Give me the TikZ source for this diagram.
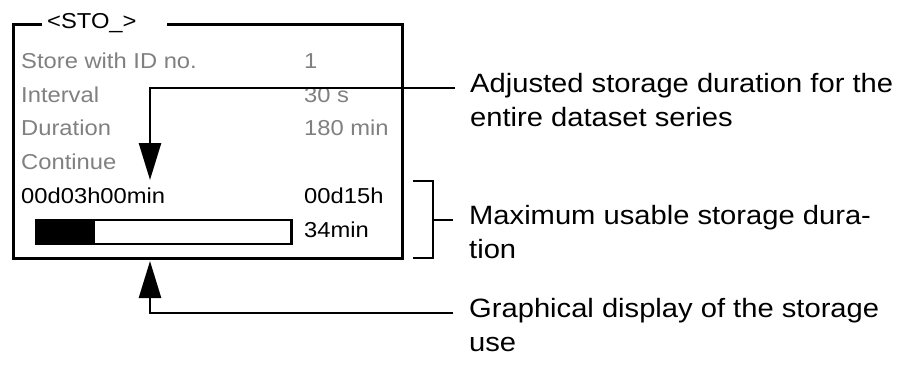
\documentclass[tikz,border=0pt]{standalone}
\usepackage{fontspec}
\setmainfont{Liberation Sans}[FakeStretch=1.1]
\usepackage{tikz}
\usetikzlibrary{arrows.meta,positioning}
\usepackage{xcolor}
\definecolor{dimgray}{RGB}{128,128,128}

\begin{document}
\begin{tikzpicture}[
      x=1pt, y=-1pt,
      every node/.style={inner sep=0pt, anchor=base west},
      menu/.style={font=\fontsize{21.6}{24}\selectfont, text=dimgray},
      menuval/.style={font=\fontsize{21.6}{24}\selectfont},
      lbl/.style={font=\fontsize{26.5}{34}\selectfont, align=left},
      frameline/.style={line width=3pt},
      conn/.style={line width=2.6pt},
      arr/.style={conn, -{Triangle[length=37pt,width=22pt]}},
    ]
    \useasboundingbox (0,0) rectangle (913,365);

    % Display frame with title
    \draw[frameline] (42,24) -- (13,24) |- (402,258) |- (167,24);
    \node[menuval] (title) at (47,28.5) {<STO\_>};

    % Menu lines
    \node[menu]    (store)    at (21,68.5)  {Store with ID no.};
    \node[menu]    (interval) at (21,102.2) {Interval};
    \node[menu]    (duration) at (21,135.9) {Duration};
    \node[menu]    (continue) at (21,169.6) {Continue};
    \node[menuval] (elapsed)  at (21,203.3) {00d03h00min};

    % Values
    \node[menu]    (idval)  at (304,68.5)  {1};
    \node[menu]    (intval) at (304,102.2) {30 s};
    \node[menu]    (durval) at (304,135.9) {180 min};
    \node[menuval] (maxd)   at (304,203.3) {00d15h};
    \node[menuval] (maxmin) at (304,237)   {34min};

    % Storage bar
    \node[draw, conn, anchor=west, minimum width=255pt, minimum height=24pt] (bar) at (35,232) {};
    \fill (bar.north west) rectangle ([xshift=60pt]bar.south west);

    % Explanations (base = last line)
    \node[lbl] (adjusted)  at (470,126) {Adjusted storage duration for the\\entire dataset series};
    \node[lbl] (maxusable) at (469,258) {Maximum usable storage dura-\\tion};
    \node[lbl] (graphical) at (469,351) {Graphical display of the storage\\use};

    % Arrows
    \coordinate (adjtip) at (150,180);
    \coordinate (usetip) at (150,261);
    \draw[arr] ([xshift=-15pt,yshift=38pt]adjusted.base west) -| (adjtip);
    \draw[arr] ([xshift=-16pt,yshift=38pt]graphical.base west) -| (usetip);

    % Bracket
    \coordinate (brtop) at (413,181);
    \coordinate (brbot) at (413,258);
    \draw[conn] (brtop) -| (433,258) -- (brbot);
    \draw[conn] ([xshift=-16pt,yshift=38pt]maxusable.base west) -- ++(-20,0);
\end{tikzpicture}
\end{document}
